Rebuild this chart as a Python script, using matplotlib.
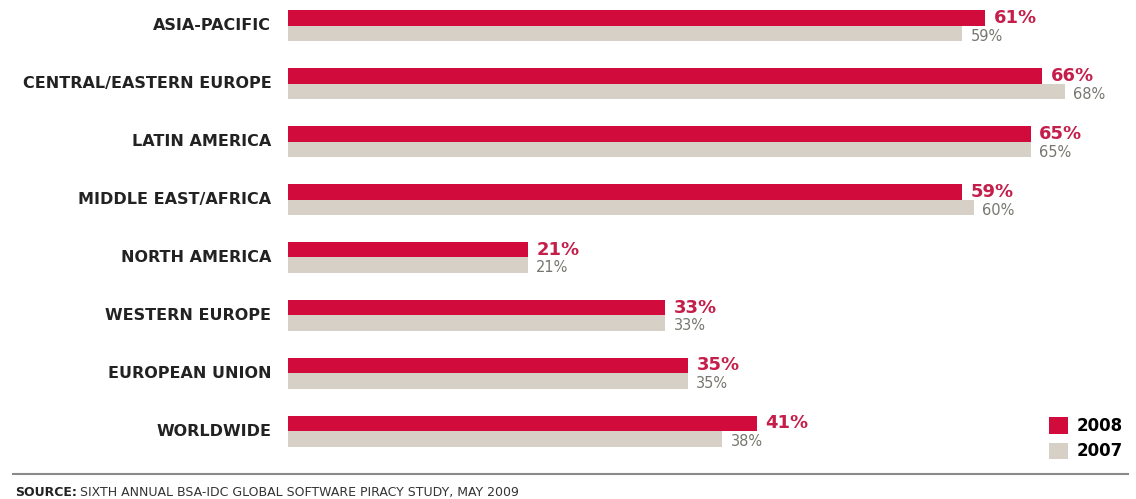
import matplotlib.pyplot as plt
from matplotlib.lines import Line2D

regions = ["ASIA-PACIFIC", "CENTRAL/EASTERN EUROPE", "LATIN AMERICA", "MIDDLE EAST/AFRICA",
           "NORTH AMERICA", "WESTERN EUROPE", "EUROPEAN UNION", "WORLDWIDE"]
rate_2008 = [61, 66, 65, 59, 21, 33, 35, 41]
rate_2007 = [59, 68, 65, 60, 21, 33, 35, 38]

red = "#d10c3c"
grey = "#d6d0c6"

plt.rcParams["font.family"] = ["DejaVu Sans"]

fig = plt.figure(figsize=(11.36, 4.99), dpi=100)
ax = fig.add_axes([288 / 1136, 0, 1 - 288 / 1136, 1])

h = 0.268
pos = list(range(len(regions)))
b1 = ax.barh([p - h / 2 for p in pos], rate_2008, height=h, color=red, label="2008")
b2 = ax.barh([p + h / 2 for p in pos], rate_2007, height=h, color=grey, label="2007")

for p, v in zip(pos, rate_2008):
    ax.annotate(f"{v}%", (v, p - h / 2), xytext=(6, 0), textcoords="offset points",
                va="center", ha="left", fontsize=13, fontweight="bold", color="#c41e4a")
for p, v in zip(pos, rate_2007):
    ax.annotate(f"{v}%", (v, p + h / 2), xytext=(6, -2), textcoords="offset points",
                va="center", ha="left", fontsize=10.5, color="#77766e")

ax.set_xlim(0, 74.2)
ax.set_ylim(8.175, -0.449)
ax.set_yticks(pos)
ax.set_yticklabels(regions, fontsize=11.5, fontweight="bold", color="#222222",
                   va="center")
ax.tick_params(axis="y", length=0, pad=12)
ax.set_xticks([])
for s in ax.spines.values():
    s.set_visible(False)

fig.legend(handles=[b1, b2], loc="upper left", bbox_to_anchor=(1034 / 1136, 1 - 402 / 499),
           frameon=False, handlelength=1.15, handleheight=1.15,
           labelspacing=0.45, handletextpad=0.5, prop={"weight": "bold", "size": 12})

fig.add_artist(Line2D([13 / 1136, 1128 / 1136], [1 - 474 / 499, 1 - 474 / 499],
                      color="#8a8a8a", lw=1.5))

t = fig.text(15 / 1136, 1 - 496 / 499, "SOURCE:", fontsize=9, fontweight="bold",
             color="#222222", va="baseline")
fig.canvas.draw()
bb = t.get_window_extent()
fig.text((bb.x1 + 3) / 1136, 1 - 496 / 499,
         "SIXTH ANNUAL BSA-IDC GLOBAL SOFTWARE PIRACY STUDY, MAY 2009",
         fontsize=9, color="#333333", va="baseline")

fig.savefig("out.png", dpi=100)
